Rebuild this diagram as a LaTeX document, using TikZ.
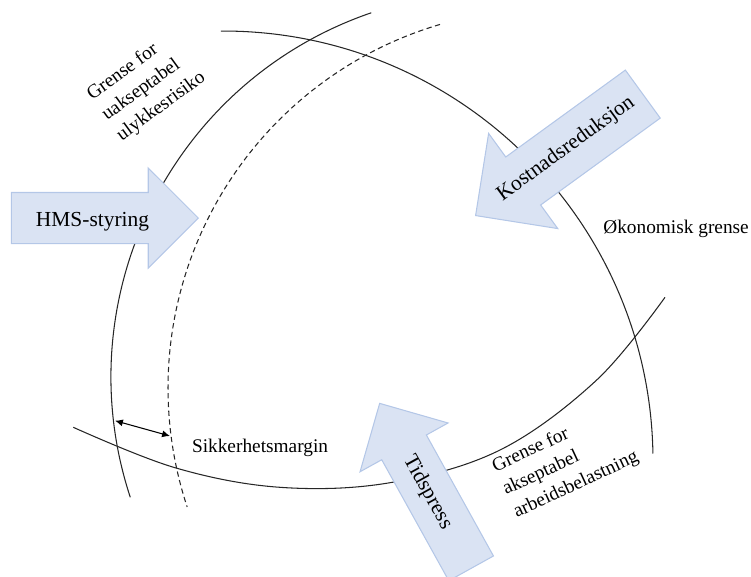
\documentclass[tikz,border=0pt]{standalone}
\usepackage{fontspec}
\setmainfont{Liberation Serif}
\usetikzlibrary{shapes.arrows,arrows.meta}
\definecolor{arrowfill}{HTML}{DAE3F3}
\definecolor{arrowline}{HTML}{B4C7E7}
\newcommand{\shaftstrut}[1]{\rule[-0.5*#1]{0pt}{#1}}
\begin{document}
\begin{tikzpicture}[x=0.02cm,y=0.02cm,
  boundary/.style={line width=0.6pt, black!85},
  margin/.style={boundary, dash pattern=on 3pt off 2pt},
  blockarrow/.style={shape=single arrow, draw=arrowline, fill=arrowfill, line width=0.6pt,
    inner sep=0pt, single arrow tip angle=90, anchor=tip},
  lbl/.style={font=\fontsize{11}{14.3}\selectfont, inner sep=0pt},
  biglbl/.style={font=\fontsize{12.2}{14.6}\selectfont, inner sep=0pt},
  dimarrow/.style={line width=0.6pt, {Latex[length=4.5pt,width=4pt]}-{Latex[length=4.5pt,width=4pt]}}]
\useasboundingbox (0,0) rectangle (751,-576);

% boundaries
\draw[boundary] (496,-377) ++(108.9:385) arc[start angle=108.9, end angle=198.2, radius=385];
\draw[margin] (547,-388) ++(106.4:379) arc[start angle=106.4, end angle=198.3, radius=379];
\draw[boundary] (223,-461) ++(90.3:430) arc[start angle=90.3, end angle=1.0, radius=430];
\draw[boundary] plot[smooth, tension=0.6] coordinates {(73.3,-427.3) (175,-467.7) (280,-487.3) (390,-482.7) (500,-450) (596.7,-380) (665,-297.3)};

% safety margin
\coordinate (mL) at (115,-420.7);
\coordinate (mR) at (170,-436);
\draw[dimarrow] (mL) -- (mR);

% block arrows
\node[blockarrow, minimum height=3.74cm, minimum width=1.98cm, single arrow head extend=0.49cm, rotate=0] (hms) at (199,-218) {\rule[-0.5cm]{0pt}{1cm}};
\node[blockarrow, minimum height=4.134cm, minimum width=2.332cm, single arrow head extend=0.583cm, rotate=216] (kost) at (475,-216) {\rule[-0.583cm]{0pt}{1.166cm}};
\node[blockarrow, minimum height=3.774cm, minimum width=1.992cm, single arrow head extend=0.496cm, rotate=119] (tid) at (379.3,-402.7) {\rule[-0.5cm]{0pt}{1cm}};

% labels
\node[biglbl, anchor=base] (thms) at (92.5,-226) {HMS-styring};
\node[biglbl, anchor=base, rotate=36] (tkost) at (569,-153) {Kostnadsreduksjon};
\node[biglbl, anchor=center, rotate=-61] (ttid) at (427.5,-492.3) {Tidspress};

\node[lbl, align=left, rotate=36, anchor=north west] (trisk) at (83.9,-89.3) {Grense for\\uakseptabel\\ulykkesrisiko};
\node[lbl, align=left, rotate=25, anchor=north west] (twork) at (489.4,-459.7) {Grense for\\akseptabel\\arbeidsbelastning};
\node[lbl, anchor=base west] (tecon) at (603,-233) {Økonomisk grense};
\node[lbl, anchor=base west] (tmargin) at (191.7,-452) {Sikkerhetsmargin};
\end{tikzpicture}
\end{document}
